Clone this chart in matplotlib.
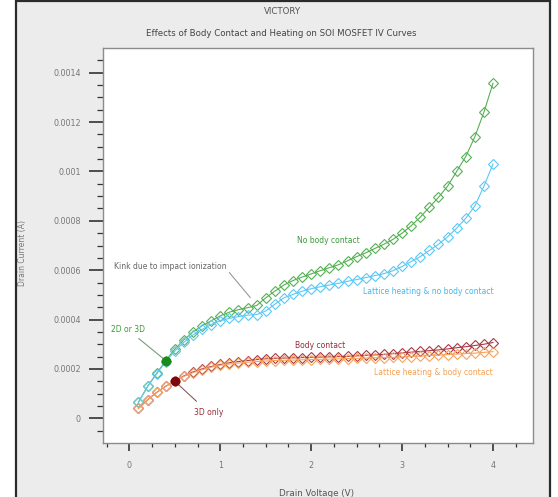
import matplotlib.pyplot as plt
import matplotlib.patches as mpatches
import numpy as np

# Drain voltage sweep (V)
vd = np.round(np.arange(0.1, 4.01, 0.1), 2)

# Drain current (A)
no_body = [6.5e-5, 1.29e-4, 1.82e-4, 2.34e-4, 2.8e-4, 3.18e-4, 3.5e-4, 3.75e-4, 3.95e-4, 4.15e-4,
           4.3e-4, 4.4e-4, 4.48e-4, 4.57e-4, 4.88e-4, 5.15e-4, 5.4e-4, 5.58e-4, 5.72e-4, 5.85e-4,
           5.98e-4, 6.1e-4, 6.22e-4, 6.38e-4, 6.55e-4, 6.7e-4, 6.88e-4, 7.05e-4, 7.25e-4, 7.5e-4,
           7.8e-4, 8.15e-4, 8.55e-4, 8.95e-4, 9.4e-4, 1.0e-3, 1.06e-3, 1.14e-3, 1.24e-3, 1.357e-3]
heat_no_body = [6.5e-5, 1.29e-4, 1.8e-4, 2.3e-4, 2.72e-4, 3.08e-4, 3.38e-4, 3.6e-4, 3.8e-4, 3.95e-4,
                4.05e-4, 4.12e-4, 4.18e-4, 4.2e-4, 4.35e-4, 4.62e-4, 4.88e-4, 5.02e-4, 5.15e-4, 5.25e-4,
                5.33e-4, 5.4e-4, 5.47e-4, 5.55e-4, 5.62e-4, 5.7e-4, 5.78e-4, 5.86e-4, 5.98e-4, 6.15e-4,
                6.35e-4, 6.55e-4, 6.8e-4, 7.05e-4, 7.35e-4, 7.7e-4, 8.1e-4, 8.6e-4, 9.4e-4, 1.03e-3]
body = [4.0e-5, 7.5e-5, 1.05e-4, 1.3e-4, 1.5e-4, 1.72e-4, 1.88e-4, 2.0e-4, 2.1e-4, 2.18e-4,
        2.25e-4, 2.3e-4, 2.34e-4, 2.38e-4, 2.41e-4, 2.43e-4, 2.44e-4, 2.45e-4, 2.46e-4, 2.47e-4,
        2.48e-4, 2.49e-4, 2.5e-4, 2.51e-4, 2.53e-4, 2.55e-4, 2.57e-4, 2.59e-4, 2.62e-4, 2.65e-4,
        2.68e-4, 2.71e-4, 2.74e-4, 2.77e-4, 2.81e-4, 2.86e-4, 2.9e-4, 2.95e-4, 3.0e-4, 3.07e-4]
heat_body = [4.0e-5, 7.5e-5, 1.05e-4, 1.3e-4, 1.5e-4, 1.7e-4, 1.85e-4, 1.97e-4, 2.07e-4, 2.15e-4,
             2.2e-4, 2.24e-4, 2.27e-4, 2.3e-4, 2.32e-4, 2.34e-4, 2.35e-4, 2.36e-4, 2.37e-4, 2.38e-4,
             2.39e-4, 2.4e-4, 2.41e-4, 2.42e-4, 2.43e-4, 2.44e-4, 2.45e-4, 2.46e-4, 2.47e-4, 2.48e-4,
             2.5e-4, 2.52e-4, 2.54e-4, 2.56e-4, 2.58e-4, 2.6e-4, 2.62e-4, 2.64e-4, 2.67e-4, 2.7e-4]

# highlighted points
dot_2d3d = (0.4, 2.34e-4)
dot_3d = (0.5, 1.5e-4)

xticks = [0, 1, 2, 3, 4]
yticks = [0, 0.0002, 0.0004, 0.0006, 0.0008, 0.001, 0.0012, 0.0014]
ytick_labels = ["0", "0.0002", "0.0004", "0.0006", "0.0008", "0.001", "0.0012", "0.0014"]

green = "#55b055"
blue = "#5cc8f5"
red = "#a83a48"
orange = "#f7a35c"
grey_txt = "#666666"

fig = plt.figure(figsize=(5.58, 4.97), dpi=100)
fig.patch.set_facecolor("white")

# window-like background panel
panel = mpatches.Rectangle((16 / 558, -0.01), 534 / 558, 1.007, transform=fig.transFigure,
                           facecolor="#ececec", edgecolor="#2b2b2b", linewidth=1.6, zorder=-5)
fig.patches.append(panel)

ax = fig.add_axes([103 / 558, 1 - 443 / 497, 430 / 558, 395 / 497])
ax.set_zorder(1)
ax.set_facecolor("white")

mk = dict(marker="D", markersize=5, markerfacecolor="none", markeredgewidth=0.8, linewidth=0.8)
ax.plot(vd, no_body, color=green, **mk)
ax.plot(vd, body, color=red, **mk)
ax.plot(vd, heat_no_body, color=blue, **mk)
ax.plot(vd, heat_body, color=orange, **mk)

ax.plot(*dot_2d3d, "o", color="#1a8a1a", markersize=6, zorder=5)
ax.plot(*dot_3d, "o", color="#7a0a10", markersize=6, zorder=5)

# curve labels
fs = 5.5
ax.text(2.19, 7.2e-4, "No body contact", color="#3a9a3a", fontsize=fs, ha="center", va="center")
ax.text(3.29, 5.13e-4, "Lattice heating & no body contact", color="#40b8f0", fontsize=fs, ha="center", va="center")
ax.text(2.1, 2.95e-4, "Body contact", color="#9a2a38", fontsize=fs, ha="center", va="center")
ax.text(3.34, 1.86e-4, "Lattice heating & body contact", color="#f5a050", fontsize=fs, ha="center", va="center")

# annotations
ax.annotate("Kink due to impact ionization", xy=(1.33, 4.89e-4), xytext=(0.45, 6.15e-4),
            color=grey_txt, fontsize=fs, ha="center", va="center",
            arrowprops=dict(arrowstyle="-", color="#999999", lw=0.8, shrinkA=0, shrinkB=0,
                            relpos=(1.0, 0.2)))
ax.annotate("2D or 3D", xy=dot_2d3d, xytext=(-0.02, 3.6e-4),
            color="#3a9a3a", fontsize=fs, ha="center", va="center",
            arrowprops=dict(arrowstyle="-", color="#7a9a7a", lw=0.8, shrinkA=2, shrinkB=0))
ax.annotate("3D only", xy=dot_3d, xytext=(0.87, 2.4e-5),
            color="#9a2a38", fontsize=fs, ha="center", va="center",
            arrowprops=dict(arrowstyle="-", color="#8a5a60", lw=0.8, shrinkA=4, shrinkB=0))

ax.set_xlim(-0.29, 4.44)
ax.set_ylim(-0.0001, 0.0015)
ax.set_xticks(xticks)
ax.set_xticks(np.arange(-0.25, 4.3, 0.25), minor=True)
ax.set_yticks(yticks)
ax.set_yticklabels(ytick_labels)
ax.set_yticks(np.arange(-0.00005, 0.00149, 0.00005), minor=True)

for s in ax.spines.values():
    s.set_color("#8c8c8c")
    s.set_linewidth(1.0)

ax.tick_params(axis="y", which="major", direction="out", length=10, width=1.2, color="#333333",
               labelsize=5.8, labelcolor="#777777", pad=6)
ax.tick_params(axis="y", which="minor", direction="out", length=4.5, width=0.9, color="#333333")
ax.tick_params(axis="x", which="major", direction="out", length=6, width=1.2, color="#333333",
               labelsize=5.8, labelcolor="#777777", pad=7)
ax.tick_params(axis="x", which="minor", direction="out", length=3, width=0.9, color="#333333")

fig.text(283 / 558, 1 - 12 / 497, "VICTORY", fontsize=6.2, color="#555555", ha="center", va="center")
fig.text(281 / 558, 1 - 34 / 497, "Effects of Body Contact and Heating on SOI MOSFET IV Curves",
         fontsize=6.2, color="#444444", ha="center", va="center")
fig.text(23 / 558, 1 - 253 / 497, "Drain Current (A)", fontsize=5.5, color="#777777",
         rotation=90, ha="center", va="center")
fig.text(317 / 558, 1 - 493 / 497, "Drain Voltage (V)", fontsize=6.3, color="#555555",
         ha="center", va="center")

fig.savefig("out.png", dpi=100)
